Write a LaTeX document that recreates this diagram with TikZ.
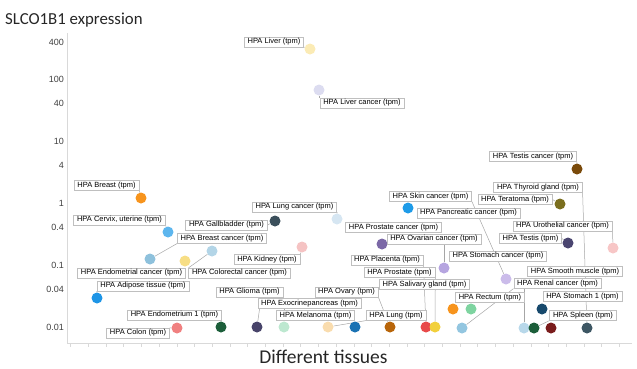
\documentclass[tikz,border=0pt]{standalone}
\usepackage{fontspec}
\setmainfont{Liberation Sans}
\newfontfamily\calib{Carlito}
\pgfdeclarelayer{bg}
\pgfsetlayers{bg,main}
\definecolor{boxgray}{HTML}{BFBFBF}
\definecolor{linegray}{HTML}{A6A6A6}
\definecolor{axisgray}{HTML}{D9D9D9}
\definecolor{tickgray}{HTML}{404040}
\definecolor{titlegray}{HTML}{262626}
\definecolor{cLiver}{HTML}{FBEBB5}
\definecolor{cLivc}{HTML}{DCDCF0}
\definecolor{cOrange}{HTML}{F7941D}
\definecolor{cCervix}{HTML}{5DB6EE}
\definecolor{cGall}{HTML}{3B4F5B}
\definecolor{cLungc}{HTML}{D6E6F2}
\definecolor{cSkin}{HTML}{1E9BE8}
\definecolor{cKidney}{HTML}{F5C3C3}
\definecolor{cProsc}{HTML}{7B68A6}
\definecolor{cOvc}{HTML}{B6A5E0}
\definecolor{cBrc}{HTML}{B3D5E7}
\definecolor{cEndc}{HTML}{8EC1DC}
\definecolor{cYelA}{HTML}{F7DE85}
\definecolor{cAdip}{HTML}{1E95E6}
\definecolor{cStomc}{HTML}{CBBCEA}
\definecolor{cTestc}{HTML}{7A4A0A}
\definecolor{cTera}{HTML}{7A6E1E}
\definecolor{cTestis}{HTML}{4A4570}
\definecolor{cUro}{HTML}{F7C6C6}
\definecolor{cStomA}{HTML}{17496C}
\definecolor{cGreen}{HTML}{7ED4A0}
\definecolor{cColon}{HTML}{F08080}
\definecolor{cDkGreen}{HTML}{1C5E3A}
\definecolor{cGlioma}{HTML}{48446A}
\definecolor{cMint}{HTML}{BDE8D0}
\definecolor{cPeach}{HTML}{F9DCAE}
\definecolor{cBlue}{HTML}{1A72B3}
\definecolor{cBrown}{HTML}{B8650A}
\definecolor{cRed}{HTML}{E84A4A}
\definecolor{cYelB}{HTML}{F2D03C}
\definecolor{cLb}{HTML}{93C6E0}
\definecolor{cPb}{HTML}{B8D8EA}
\definecolor{cDkRed}{HTML}{7A1C1C}
\definecolor{cSlate}{HTML}{3D5663}
\begin{document}
\begin{tikzpicture}[x=1pt,y=-1pt,
  dot/.style={circle,inner sep=0pt,minimum size=11pt,draw=none},
  lab/.style={draw=boxgray,fill=white,line width=0.6pt,font=\fontsize{7.5}{8}\selectfont,
    inner xsep=3.3pt,inner ysep=1.3pt,text height=5.4pt,text depth=1.6pt},
  conn/.style={draw=linegray,line width=0.5pt},
  ticklab/.style={font=\fontsize{9}{10}\selectfont,anchor=east,text=tickgray,inner sep=0pt},
  axisline/.style={draw=axisgray,line width=0.8pt}
]
\useasboundingbox (0,0) rectangle (637,368);
% title and axis label
\node[anchor=base west,inner sep=0pt,font=\calib\fontsize{16.8}{19}\selectfont,text=titlegray] (title) at (5,24) {SLCO1B1 expression};
\node[anchor=base,inner sep=0pt,font=\calib\fontsize{19.5}{22}\selectfont,text=titlegray] (xlab) at (323.5,363.5) {Different tissues};
% axes
\coordinate (ytop) at (67,33);
\coordinate (orig) at (67,343);
\coordinate (xend) at (632,343);
\draw[axisline] (ytop) -- (orig) -- (xend);
\foreach \x in {70.6,88.3,...,630} \draw[draw=axisgray,line width=0.5pt] (\x,343) -- (\x,347);
% tick labels
\foreach \v/\y in {400/42,100/79,40/103.5,10/141,4/165.5,1/203,0.4/227.5,0.1/265,0.04/289.5,0.01/327}
  \node[ticklab] at (64,\y) {\v};
% dots
\node[dot,fill=cLiver] (d-liver) at (310,49) {};
\node[dot,fill=cLivc] (d-livc) at (319,90) {};
\node[dot,fill=cOrange] (d-breast) at (141,198) {};
\node[dot,fill=cCervix] (d-cervix) at (168,232) {};
\node[dot,fill=cGall] (d-gall) at (275,221) {};
\node[dot,fill=cLungc] (d-lungc) at (337,219) {};
\node[dot,fill=cSkin] (d-skin) at (408,208) {};
\node[dot,fill=cKidney] (d-kidney) at (302,247) {};
\node[dot,fill=cProsc] (d-prosc) at (382,244) {};
\node[dot,fill=cOvc] (d-ovc) at (444,268) {};
\node[dot,fill=cBrc] (d-brc) at (212,251) {};
\node[dot,fill=cEndc] (d-endc) at (150,259) {};
\node[dot,fill=cYelA] (d-yelA) at (185,261) {};
\node[dot,fill=cAdip] (d-adip) at (97,298) {};
\node[dot,fill=cStomc] (d-stomc) at (506,279) {};
\node[dot,fill=cTestc] (d-testc) at (577,169) {};
\node[dot,fill=cTera] (d-tera) at (560,204) {};
\node[dot,fill=cTestis] (d-testis) at (568,243) {};
\node[dot,fill=cUro] (d-uro) at (613,248) {};
\node[dot,fill=cStomA] (d-stomA) at (542,309) {};
\node[dot,fill=cOrange] (d-orange) at (453,309) {};
\node[dot,fill=cGreen] (d-green) at (471,309) {};
\node[dot,fill=cColon] (d-colon) at (177,328) {};
\node[dot,fill=cDkGreen] (d-endo) at (221,327) {};
\node[dot,fill=cGlioma] (d-glioma) at (257,327) {};
\node[dot,fill=cMint] (d-exo) at (284,327) {};
\node[dot,fill=cPeach] (d-mel) at (328,327) {};
\node[dot,fill=cBlue] (d-blue) at (355,327) {};
\node[dot,fill=cBrown] (d-brown) at (390,327) {};
\node[dot,fill=cRed] (d-red) at (426,327) {};
\node[dot,fill=cYelB] (d-yelB) at (435,327) {};
\node[dot,fill=cLb] (d-lb) at (462,328) {};
\node[dot,fill=cPb] (d-pb) at (524,328) {};
\node[dot,fill=cDkGreen] (d-dg) at (534,328) {};
\node[dot,fill=cDkRed] (d-dkred) at (551,328) {};
\node[dot,fill=cSlate] (d-slate) at (587,328) {};
% labels
\node[lab] (l-liver) at (274,42) {HPA Liver (tpm)};
\node[lab] (l-livc) at (362,103) {HPA Liver cancer (tpm)};
\node[lab] (l-breast) at (106.5,185.5) {HPA Breast (tpm)};
\node[lab] (l-cervix) at (119.5,220) {HPA Cervix, uterine (tpm)};
\node[lab] (l-gall) at (226.5,225) {HPA Gallbladder (tpm)};
\node[lab] (l-lungc) at (294.5,207) {HPA Lung cancer (tpm)};
\node[lab] (l-skin) at (430.5,196.5) {HPA Skin cancer (tpm)};
\node[lab] (l-panc) at (468.5,213) {HPA Pancreatic cancer (tpm)};
\node[lab] (l-prosc) at (393.5,227.5) {HPA Prostate cancer (tpm)};
\node[lab] (l-ovc) at (434,239) {HPA Ovarian cancer (tpm)};
\node[lab] (l-brc) at (222,238.5) {HPA Breast cancer (tpm)};
\node[lab] (l-kidney) at (267,259.5) {HPA Kidney (tpm)};
\node[lab] (l-endc) at (131.5,273) {HPA Endometrial cancer (tpm)};
\node[lab] (l-colc) at (239.5,273) {HPA Colorectal cancer (tpm)};
\node[lab] (l-adip) at (143,286) {HPA Adipose tissue (tpm)};
\node[lab] (l-endo) at (174.5,315) {HPA Endometrium 1 (tpm)};
\node[lab] (l-colon) at (138,333) {HPA Colon (tpm)};
\node[lab] (l-glioma) at (249.5,292) {HPA Glioma (tpm)};
\node[lab] (l-exo) at (309.5,303.5) {HPA Exocrinepancreas (tpm)};
\node[lab] (l-mel) at (315.5,315.5) {HPA Melanoma (tpm)};
\node[lab] (l-ovary) at (346.5,292) {HPA Ovary (tpm)};
\node[lab] (l-lung) at (396,315.5) {HPA Lung (tpm)};
\node[lab] (l-plac) at (387,260) {HPA Placenta (tpm)};
\node[lab] (l-pros) at (399.5,272.5) {HPA Prostate (tpm)};
\node[lab] (l-saliv) at (424.5,284.5) {HPA Salivary gland (tpm)};
\node[lab] (l-rect) at (490,297.5) {HPA Rectum (tpm)};
\node[lab] (l-renal) at (557.5,283.5) {HPA Renal cancer (tpm)};
\node[lab] (l-smooth) at (575,271.5) {HPA Smooth muscle (tpm)};
\node[lab] (l-stomA) at (582.5,296.5) {HPA Stomach 1 (tpm)};
\node[lab] (l-spleen) at (583,315.5) {HPA Spleen (tpm)};
\node[lab] (l-stomc) at (498,256) {HPA Stomach cancer (tpm)};
\node[lab] (l-thy) at (538,187.5) {HPA Thyroid gland (tpm)};
\node[lab] (l-tera) at (515,199.5) {HPA Teratoma (tpm)};
\node[lab] (l-testc) at (533,156.5) {HPA Testis cancer (tpm)};
\node[lab] (l-uro) at (562.5,226) {HPA Urothelial cancer (tpm)};
\node[lab] (l-testis) at (530.5,238.5) {HPA Testis (tpm)};
% connectors
\begin{pgfonlayer}{bg}
\draw[conn] (l-liver.south east) -- (d-liver);
\draw[conn] (d-livc) -- (d-livc |- l-livc.north);
\draw[conn] (l-breast.south east) -- (d-breast);
\draw[conn] (l-cervix.south east) -- (d-cervix);
\draw[conn] (l-gall.east) -- (d-gall);
\draw[conn] (l-lungc.south east) -- (d-lungc);
\draw[conn] (l-skin.south east) -- (d-stomc);
\draw[conn] (l-kidney.north east) -- (d-kidney);
\draw[conn] (d-ovc) -- (d-ovc |- l-ovc.south);
\draw[conn] (d-endc) -- (l-brc.south west);
\draw[conn] (d-brc) -- (l-colc.north west);
\draw[conn] (d-adip) -- (l-adip.south west);
\draw[conn] (l-endo.south east) -- (d-endo);
\draw[conn] (l-colon.north east) -- (d-colon);
\draw[conn] (d-glioma) -- ([xshift=-22pt]l-glioma.south east);
\draw[conn] (d-exo) -- (d-exo |- l-exo.south);
\draw[conn] (d-mel) -- (l-lung.south west);
\draw[conn] (l-ovary.south east) -- (d-brown);
\draw[conn] (l-plac.south east) -- (d-red);
\draw[conn] (l-pros.south east) -- (d-yelB);
\draw[conn] (d-lb) -- (l-renal.south west);
\draw[conn] (d-pb) -- (d-pb |- l-renal.south);
\draw[conn] (d-dg) -- (l-spleen.south west);
\draw[conn] (l-thy.south east) -- (d-slate);
\draw[conn] (l-uro.south east) -- (d-uro);
\draw[conn] (l-testc.south east) -- (d-testc);
\draw[conn] (l-tera.east) -- (d-tera);
\draw[conn] (l-testis.east) -- (d-testis);
\end{pgfonlayer}
\end{tikzpicture}
\end{document}
